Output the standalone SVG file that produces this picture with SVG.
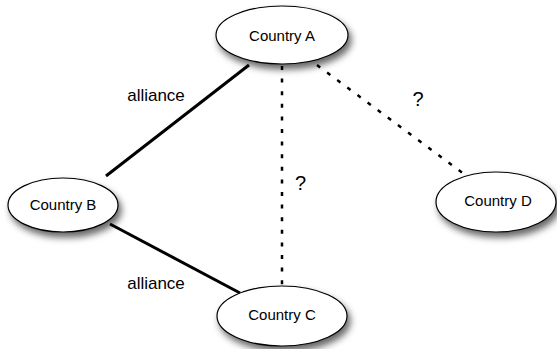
<svg xmlns="http://www.w3.org/2000/svg" width="557" height="349" viewBox="0 0 557 349">
<style>
.node ellipse{fill:#fff;stroke:#000;stroke-width:1.2;filter:url(#sh)}
.node text{font-family:"Liberation Sans",Arial,sans-serif;font-size:15px;text-anchor:middle;fill:#000}
.lbl{font-family:"Liberation Sans",Arial,sans-serif;font-size:17px;text-anchor:middle;fill:#000}
.q{font-size:20px}
.solid{stroke:#000;stroke-width:3;fill:none}
.dot{stroke:#000;stroke-width:2.5;stroke-dasharray:4 8.6;fill:none}
</style>
<defs>
<filter id="sh" x="-20%" y="-25%" width="150%" height="170%">
<feDropShadow dx="3" dy="5" stdDeviation="3.5" flood-color="#000" flood-opacity="0.6"/>
</filter>
</defs>
<rect width="557" height="349" fill="#fff"/>
<g id="connectors">
<line class="solid" x1="249" y1="65" x2="106" y2="176"/>
<line class="solid" x1="110" y1="224" x2="240" y2="293"/>
<line class="dot" x1="282" y1="66" x2="282" y2="286"/>
<line class="dot" x1="317" y1="65" x2="464" y2="174"/>
<text class="lbl" x="156" y="101">alliance</text>
<text class="lbl" x="156" y="289">alliance</text>
<text class="lbl q" x="300.5" y="190">?</text>
<text class="lbl q" x="418" y="105.5">?</text>
</g>
<g id="nodeA" class="node"><ellipse cx="282" cy="35" rx="66" ry="29"/><text x="282" y="41">Country A</text></g>
<g id="nodeB" class="node"><ellipse cx="63" cy="205" rx="55" ry="27"/><text x="63" y="210">Country B</text></g>
<g id="nodeC" class="node"><ellipse cx="282" cy="316" rx="65" ry="30"/><text x="282" y="320">Country C</text></g>
<g id="nodeD" class="node"><ellipse cx="496" cy="202" rx="60" ry="30"/><text x="498" y="206">Country D</text></g>
</svg>
